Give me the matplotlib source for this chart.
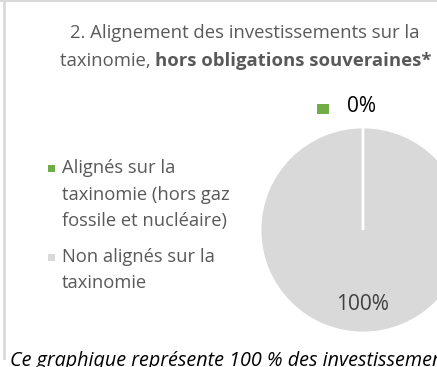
import matplotlib
matplotlib.use("Agg")
import matplotlib.pyplot as plt
from matplotlib.patches import Rectangle
from matplotlib.lines import Line2D

plt.rcParams['font.family'] = ['Open Sans', 'DejaVu Sans']

categories = ["Alignés sur la\ntaxinomie (hors gaz\nfossile et nucléaire)",
              "Non alignés sur la\ntaxinomie"]
values = [0, 100]
colors = ["#70ad47", "#d9d9d9"]
title_line1 = "2. Alignement des investissements sur la"
title_line2_plain = "taxinomie, "
title_line2_bold = "hors obligations souveraines*"
footnote = "Ce graphique représente 100 % des investissements totaux."

W, H = 437, 367
TXT = "#595959"
fig = plt.figure(figsize=(W / 100, H / 100), dpi=100)
ax = fig.add_axes([0, 0, 1, 1])

# pie; the empty slice is drawn on top so its white edge stays visible
cx, cy, r = 363, H - 230, 103
wedges, _ = ax.pie(values, colors=colors, startangle=90, counterclock=False,
                   center=(cx, cy), radius=r, frame=True,
                   wedgeprops=dict(edgecolor="white", linewidth=2))
for k, w in enumerate(wedges):
    w.set_zorder(3 if values[k] == 0 else 2)
ax.set_xlim(0, W)
ax.set_ylim(0, H)
ax.set_aspect('equal')
ax.axis('off')

# outer frame of the chart area
ax.add_line(Line2D([3.5, 3.5], [H - 358, H], color="#d9d9d9", lw=2))
ax.add_line(Line2D([0, W], [H - 0.5, H - 0.5], color="#d9d9d9", lw=1.5))

# data labels
ax.add_patch(Rectangle((317, H - 114), 12, 10, color=colors[0], lw=0))
ax.text(347, H - 106, f"{values[0]:.0f}%", fontsize=15, color="#000000",
        ha="left", va="center")
ax.text(cx, H - 305, f"{values[1]:.0f}%", fontsize=15, color="#404040",
        ha="center", va="center")

# title (second line mixes regular and bold runs)
fs_t = 13.3
tcx = 245
ax.text(tcx, H - 33, title_line1, fontsize=fs_t, color=TXT,
        ha="center", va="center")
fig.canvas.draw()
rend = fig.canvas.get_renderer()
t1 = ax.text(0, H - 61, title_line2_plain, fontsize=fs_t, color=TXT,
             ha="left", va="center")
t2 = ax.text(0, H - 61, title_line2_bold, fontsize=fs_t, color=TXT,
             ha="left", va="center", fontweight="bold")
inv = ax.transData.inverted()
def width_data(t):
    bb = t.get_window_extent(renderer=rend)
    return inv.transform((bb.x1, 0))[0] - inv.transform((bb.x0, 0))[0]
w1, w2 = width_data(t1), width_data(t2)
x0 = tcx - (w1 + w2) / 2 + 1
t1.set_x(x0)
t2.set_x(x0 + w1)

# legend
legend_y = [168, 257]
fs_l = 13.2
for i, (lab, col) in enumerate(zip(categories, colors)):
    y0 = legend_y[i]
    ax.add_patch(Rectangle((48, H - y0 - 3.5), 7, 7, color=col, lw=0))
    for k, line in enumerate(lab.split("\n")):
        ax.text(62, H - y0 - k * 26.5, line, fontsize=fs_l, color=TXT,
                ha="left", va="center")

# footnote
ax.text(10, H - 366, footnote, fontsize=14.2, style="italic", color="#000000",
        ha="left", va="baseline")

fig.savefig("out.png", dpi=100)
